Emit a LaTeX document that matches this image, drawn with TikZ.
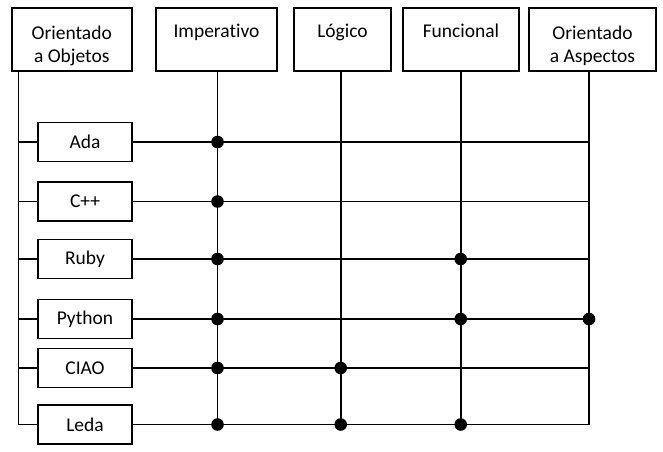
\documentclass[tikz,border=0pt]{standalone}
\usepackage{fontspec}
\setmainfont{Carlito}[Ligatures=NoCommon]
\usetikzlibrary{positioning}
\newcommand{\topo}{\rule{0pt}{26pt}}
\tikzset{
  paradigma/.style={draw, line width=1.6pt, align=center, inner sep=2pt,
                minimum height=63pt, font=\fontsize{19.5}{23.5}\selectfont},
  linguagem/.style={draw, line width=1.6pt, align=center, inner sep=2pt,
                minimum width=94pt, minimum height=39pt, font=\fontsize{19.5}{23.5}\selectfont},
  ligacao/.style={line width=1.6pt},
}

\begin{document}
\begin{tikzpicture}[x=1pt, y=-1pt]
  \useasboundingbox (0,0) rectangle (663,451);

  % paradigmas (topo)
  \node[paradigma,minimum width=120pt] (oo)   at (71.75, 39.5) {\topo Orientado\\a Objetos};
  \node[paradigma,minimum width=121pt] (imp)  at (216.5, 39.5) {\topo Imperativo\\\strut};
  \node[paradigma,minimum width=97pt]  (log)  at (342.5, 39.5) {\topo Lógico\\\strut};
  \node[paradigma,minimum width=116pt] (func) at (461,   39.5) {\topo Funcional\\\strut};
  \node[paradigma,minimum width=127pt] (asp)  at (592.5, 39.5) {\topo Orientado\\a Aspectos};

  % linguagens
  \node[linguagem] (ada)    at (85, 142)   {Ada};
  \node[linguagem] (cpp)    at (85, 201.5) {C++};
  \node[linguagem] (ruby)   at (85, 259)   {Ruby};
  \node[linguagem] (python) at (85, 319)   {Python};
  \node[linguagem] (ciao)   at (85, 368)   {CIAO};
  \node[linguagem] (leda)   at (85, 424.5) {Leda};

  % colunas das barras verticais
  \coordinate (coo)   at (18.5, 0);
  \coordinate (cimp)  at (217.5, 0);
  \coordinate (clog)  at (340.7, 0);
  \coordinate (cfunc) at (460.7, 0);
  \coordinate (casp)  at (589, 0);

  % barras verticais
  \draw[ligacao] (oo.south -| coo)     -- (leda -| coo);
  \draw[ligacao] (imp.south -| cimp)   -- (leda -| cimp);
  \draw[ligacao] (log.south -| clog)   -- (leda -| clog);
  \draw[ligacao] (func.south -| cfunc) -- (leda -| cfunc);
  \draw[ligacao] (asp.south -| casp)   -- (leda -| casp);

  % linhas horizontais
  \foreach \l in {ada,cpp,ruby,python,ciao,leda} {
    \draw[ligacao] (\l -| coo) -- (\l.west);
    \draw[ligacao] (\l.east) -- (\l -| casp);
  }

  % pontos de ligação
  \foreach \l/\c in {ada/cimp, cpp/cimp, ruby/cimp, python/cimp, ciao/cimp, leda/cimp,
                     ciao/clog, leda/clog,
                     ruby/cfunc, python/cfunc, leda/cfunc,
                     python/casp}
    \fill (\l -| \c) circle (6.3);

\end{tikzpicture}
\end{document}
